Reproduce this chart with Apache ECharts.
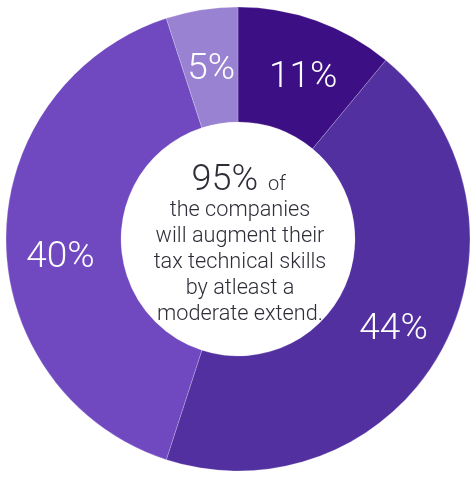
<!DOCTYPE html>
<html><head><meta charset="utf-8">
<script src="https://cdn.jsdelivr.net/npm/echarts@6/dist/echarts.min.js"></script>
<style>html,body{margin:0;padding:0;background:#fff}#c{width:471px;height:477px}</style>
</head><body><div id="c"></div>
<script>
const categories = ['A', 'B', 'C', 'D'];
const values = [11, 44, 40, 5];
const colors = ['#3D0F84', '#5230A0', '#7048BF', '#9A82D2'];
const labelOffsets = [[5, 6], [0, 5], [0, 19], [1, 6]];
const headline = '95%';
const headlineTail = 'of';
const centerLines = ['the companies', 'will augment their', 'tax technical skills', 'by atleast a', 'moderate extend.'];

const textColor = '#2e2e38';
const font = 'Roboto';
const cx = 238;
const asc = 0.76;
const dy = 3;
const graphics = [
  {type: 'text', x: 258, y: 187 + dy - asc * 36, z: 100,
    style: {text: headline, align: 'right', verticalAlign: 'top', fill: textColor, fontSize: 36, fontFamily: font, fontWeight: 300}},
  {type: 'text', x: 268, y: 187 + dy - asc * 20, z: 100,
    style: {text: headlineTail, align: 'left', verticalAlign: 'top', fill: textColor, fontSize: 20, fontFamily: font, fontWeight: 300}}
];
centerLines.forEach((l, i) => graphics.push({
  type: 'text', x: cx + 2, y: 213.5 + dy + i * 26 - asc * 21.7, z: 100,
  style: {text: l, align: 'center', verticalAlign: 'top', fill: textColor,
    fontSize: 21.7, fontFamily: font, fontWeight: 300}
}));

const chart = echarts.init(document.getElementById('c'), null, {renderer: 'canvas'});
chart.setOption({
  animation: false,
  series: [{
    type: 'pie',
    center: [238, 239],
    radius: [117, 232],
    startAngle: 90,
    clockwise: true,
    silent: true,
    itemStyle: {borderColor: 'rgba(255,255,255,0.35)', borderWidth: 0.6},
    label: {
      position: 'inside',
      formatter: p => p.value + '%',
      color: '#ffffff',
      fontFamily: font,
      fontWeight: 300,
      fontSize: 37
    },
    labelLine: {show: false},
    data: categories.map((c, i) => ({
      name: c, value: values[i],
      itemStyle: {color: colors[i]},
      label: {offset: labelOffsets[i]}
    }))
  }],
  graphic: graphics
});
</script></body></html>
